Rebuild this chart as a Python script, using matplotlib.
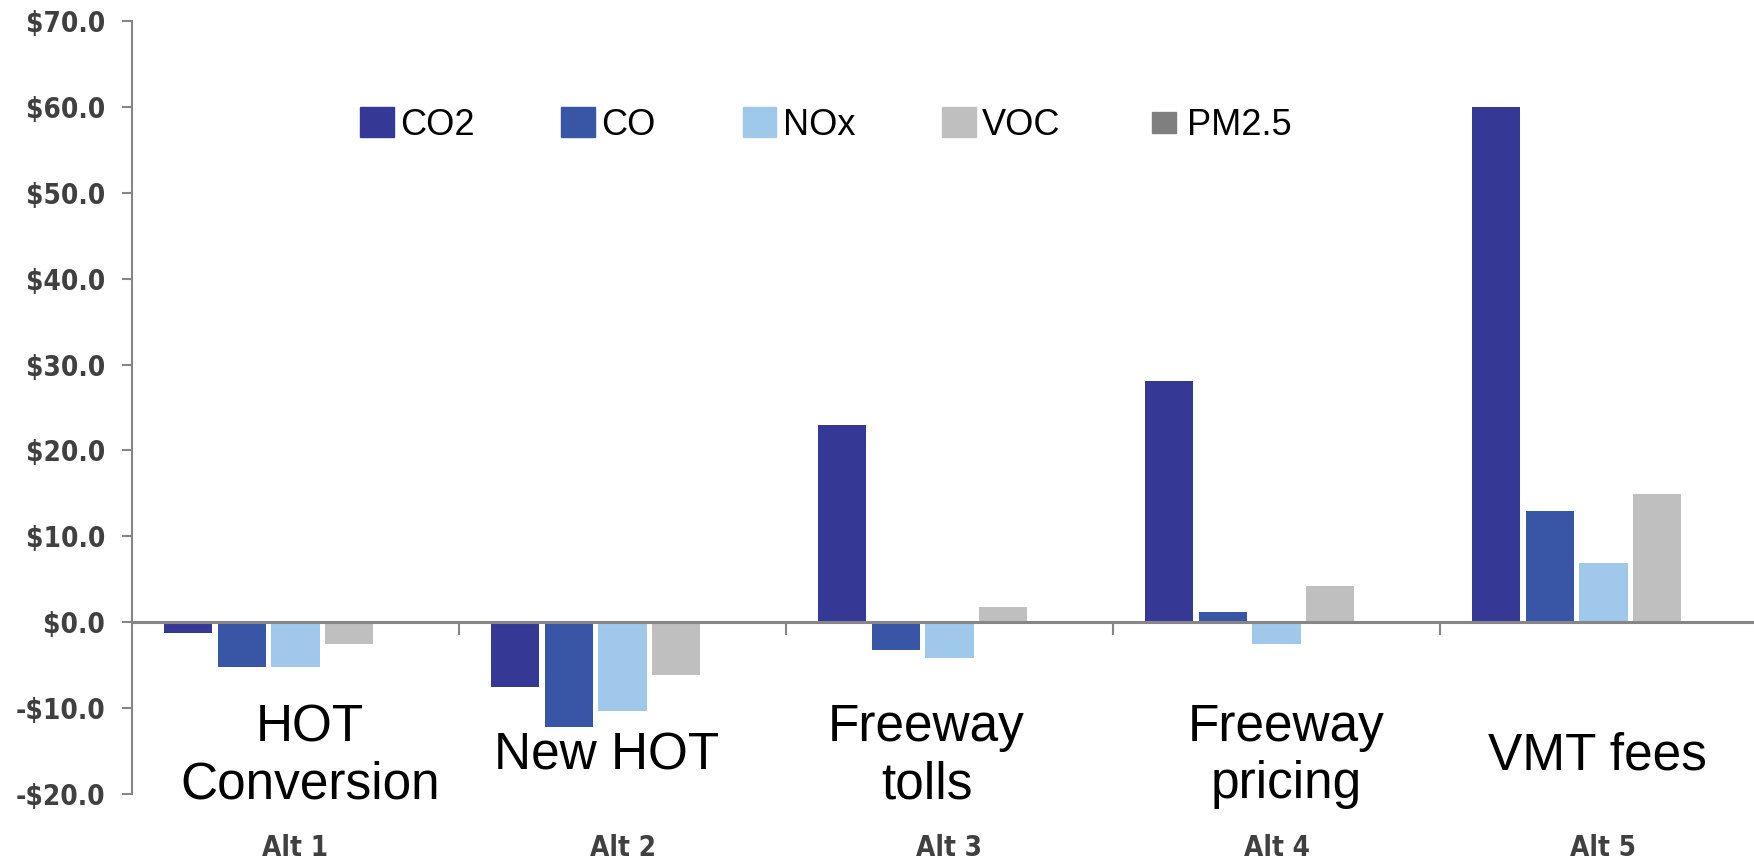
import numpy as np
import matplotlib
matplotlib.use('Agg')
import matplotlib.pyplot as plt
import matplotlib.patches as mpatches
from matplotlib.legend_handler import HandlerPatch

# data
categories = ['Alt 1', 'Alt 2', 'Alt 3', 'Alt 4', 'Alt 5']
scenarios = ['HOT\nConversion', 'New HOT', 'Freeway\ntolls', 'Freeway\npricing', 'VMT fees']
series = ['CO2', 'CO', 'NOx', 'VOC', 'PM2.5']
co2 = [-1.2, -7.6, 23.0, 28.1, 60.0]
co = [-5.2, -12.2, -3.2, 1.2, 12.9]
nox = [-5.2, -10.3, -4.2, -2.5, 6.9]
voc = [-2.5, -6.2, 1.8, 4.2, 14.9]
pm25 = [0.0, 0.0, 0.0, 0.0, 0.0]
y_ticks = [-20, -10, 0, 10, 20, 30, 40, 50, 60, 70]

colors = ['#363895', '#3955A5', '#9FC8EB', '#BFBFBF', '#7F7F7F']
label_dx = [0.045, -0.05, -0.07, 0.03, -0.02]  # nudges of the scenario captions
GRAY = '#868686'
TXT = '#404040'
axis_font = dict(family='DejaVu Sans', stretch='condensed', weight='bold', size=20)


def small_square(legend, orig_handle, xdescent, ydescent, width, height, fontsize):
    w, h = width * 0.7, height * 0.7
    return mpatches.Rectangle((-xdescent + (width - w) / 2, -ydescent + (height - h) / 2), w, h)


W, H = 1754, 861
fig = plt.figure(figsize=(W / 100, H / 100), dpi=100)
ax = fig.add_axes([132 / W, 1 - 794 / H, (1767 - 132) / W, (794 - 21) / H])

x = np.arange(len(categories))
step = 0.165
width = 0.147
values = [co2, co, nox, voc, pm25]
for i, (name, vals) in enumerate(zip(series, values)):
    ax.bar(x + (i - 2) * step, vals, width, color=colors[i], label=name, zorder=1)

ax.set_xlim(-0.5, len(categories) - 0.5)
ax.set_ylim(-20, 70)

for s in ['top', 'right']:
    ax.spines[s].set_visible(False)
ax.spines['left'].set_color(GRAY)
ax.spines['left'].set_linewidth(1.5)
ax.spines['bottom'].set_position(('data', 0))
ax.spines['bottom'].set_color(GRAY)
ax.spines['bottom'].set_linewidth(2.2)

ax.set_yticks(y_ticks)
ax.set_yticklabels(['-$%.1f' % -v if v < 0 else '$%.1f' % v for v in y_ticks],
                   color=TXT, **axis_font)
ax.tick_params(axis='y', length=7.5, width=1.5, color=GRAY, pad=12)

ax.set_xticks(x)
ax.set_xticklabels([])
ax.set_xticks(x[:-1] + 0.5, minor=True)
ax.tick_params(axis='x', which='major', length=0)
ax.tick_params(axis='x', which='minor', length=9.5, width=1.5, color=GRAY)

sec = ax.secondary_xaxis('bottom')
sec.set_xticks(x)
sec.set_xticklabels(categories, color=TXT, **axis_font)
sec.tick_params(length=0, pad=29)
sec.spines['bottom'].set_visible(False)

for i, lab in enumerate(scenarios):
    ax.text(i + label_dx[i], -15.6, lab, ha='center', va='center',
            fontsize=37, family='Liberation Sans', color='black', linespacing=1.2)

handles = [mpatches.Patch(color=c) for c in colors]
ax.legend(handles, series, loc='center left', bbox_to_anchor=(360 / W, 1 - 125 / H),
          bbox_transform=fig.transFigure, ncol=5, frameon=False,
          prop={'family': 'Liberation Sans', 'size': 26},
          handlelength=0.94, handleheight=0.89, handletextpad=0.17,
          columnspacing=2.4, borderpad=0, borderaxespad=0,
          handler_map={handles[-1]: HandlerPatch(patch_func=small_square)})

fig.savefig('out.png', dpi=100)
